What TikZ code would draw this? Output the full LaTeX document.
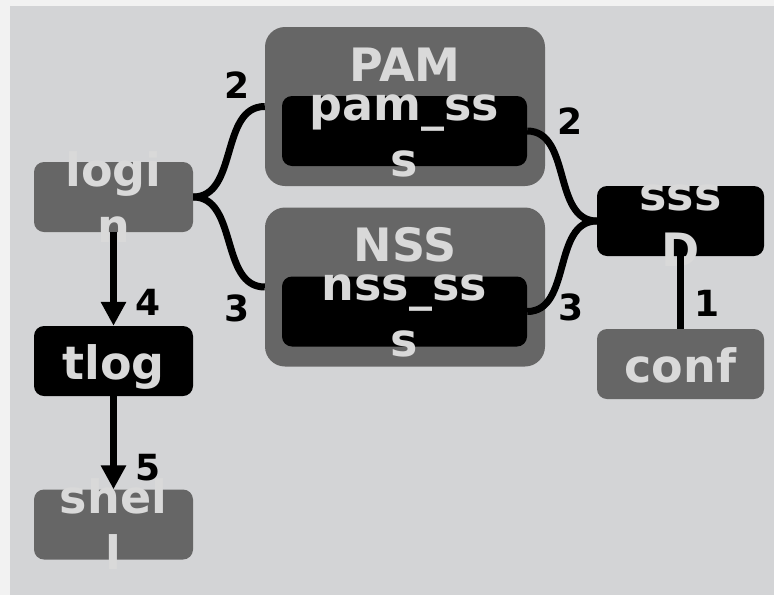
\documentclass[tikz,border=0pt]{standalone}
\usepackage{fontspec}
\setmainfont{DejaVu Sans}
\usetikzlibrary{arrows.meta}

\definecolor{pagebg}{HTML}{F2F2F2}
\definecolor{panelbg}{HTML}{D3D4D6}
\definecolor{boxgray}{HTML}{666666}
\definecolor{txtgray}{HTML}{D9D9D9}

% box text that may overflow the box without changing its size
\newcommand{\boxlines}[2]{\smash{\raisebox{11pt}{\begin{tabular}[t]{@{}c@{}}#1\\#2\end{tabular}}}}
\newcommand{\boxline}[1]{\smash{\raisebox{-18pt}{#1}}}
\newcommand{\clusterlabel}[1]{\smash{\raisebox{25.5pt}{#1}}}

\tikzset{
  box/.style={rounded corners=10pt, inner sep=0pt, minimum width=159pt,
    minimum height=70pt, text=txtgray, font=\fontsize{46}{56}\selectfont\bfseries},
  graybox/.style={box, fill=boxgray},
  blackbox/.style={box, fill=black},
  cluster/.style={box, fill=boxgray, rounded corners=20pt,
    minimum width=280pt, minimum height=159pt},
  module/.style={box, fill=black, minimum width=245pt, minimum height=70pt},
  edge/.style={draw=black, line width=7pt},
  flow/.style={edge, -{Triangle[width=24pt,length=24pt]}},
  num/.style={inner sep=0pt, text=black, font=\fontsize{36}{43}\selectfont\bfseries}
}

\begin{document}
\begin{tikzpicture}[x=1pt, y=-1pt]
  \useasboundingbox (0,0) rectangle (774,595);
  \fill[pagebg] (0,0) rectangle (774,595);
  \fill[panelbg] (10,6) rectangle (774,595);

  % service groups
  \node[cluster] (pam) at (405,106.5) {\clusterlabel{PAM}};
  \node[cluster] (nss) at (405,287) {\clusterlabel{NSS}};
  \node[module] (pamsss) at (404.5,131) {\boxlines{pam\_ss}{s}};
  \node[module] (nsssss) at (404.5,311.5) {\boxlines{nss\_ss}{s}};

  % programs
  \node[graybox] (login) at (113.5,197) {\boxlines{logi}{n}};
  \node[blackbox] (tlog) at (113.5,361) {\boxline{tlog}};
  \node[graybox] (shell) at (113.5,524.5) {\boxlines{shel}{l}};
  \node[blackbox, minimum width=167pt] (sssd) at (680.5,221) {\boxlines{sss}{D}};
  \node[graybox, minimum width=167pt] (conf) at (680.5,364) {\boxline{conf}};

  % connections
  \draw[edge] (login.east) to[out=0,in=180] (pam.west);
  \draw[edge] (login.east) to[out=0,in=180] (nss.west);
  \draw[edge] (pamsss.east) to[out=0,in=180] (sssd.west);
  \draw[edge] (nsssss.east) to[out=0,in=180] (sssd.west);
  \draw[edge, shorten >=-6pt] (conf.north) -- (sssd.south);
  \draw[flow] (login.south) -- (tlog.north);
  \draw[flow] (tlog.south) -- (shell.north);

  % step numbers
  \node[num] (n1) at (707,303.5) {1};
  \node[num] (n2a) at (237.5,85) {2};
  \node[num] (n2b) at (570,121) {2};
  \node[num] (n3a) at (237.5,308) {3};
  \node[num] (n3b) at (571,307.5) {3};
  \node[num] (n4) at (148,302) {4};
  \node[num] (n5) at (148,467.5) {5};
\end{tikzpicture}
\end{document}
